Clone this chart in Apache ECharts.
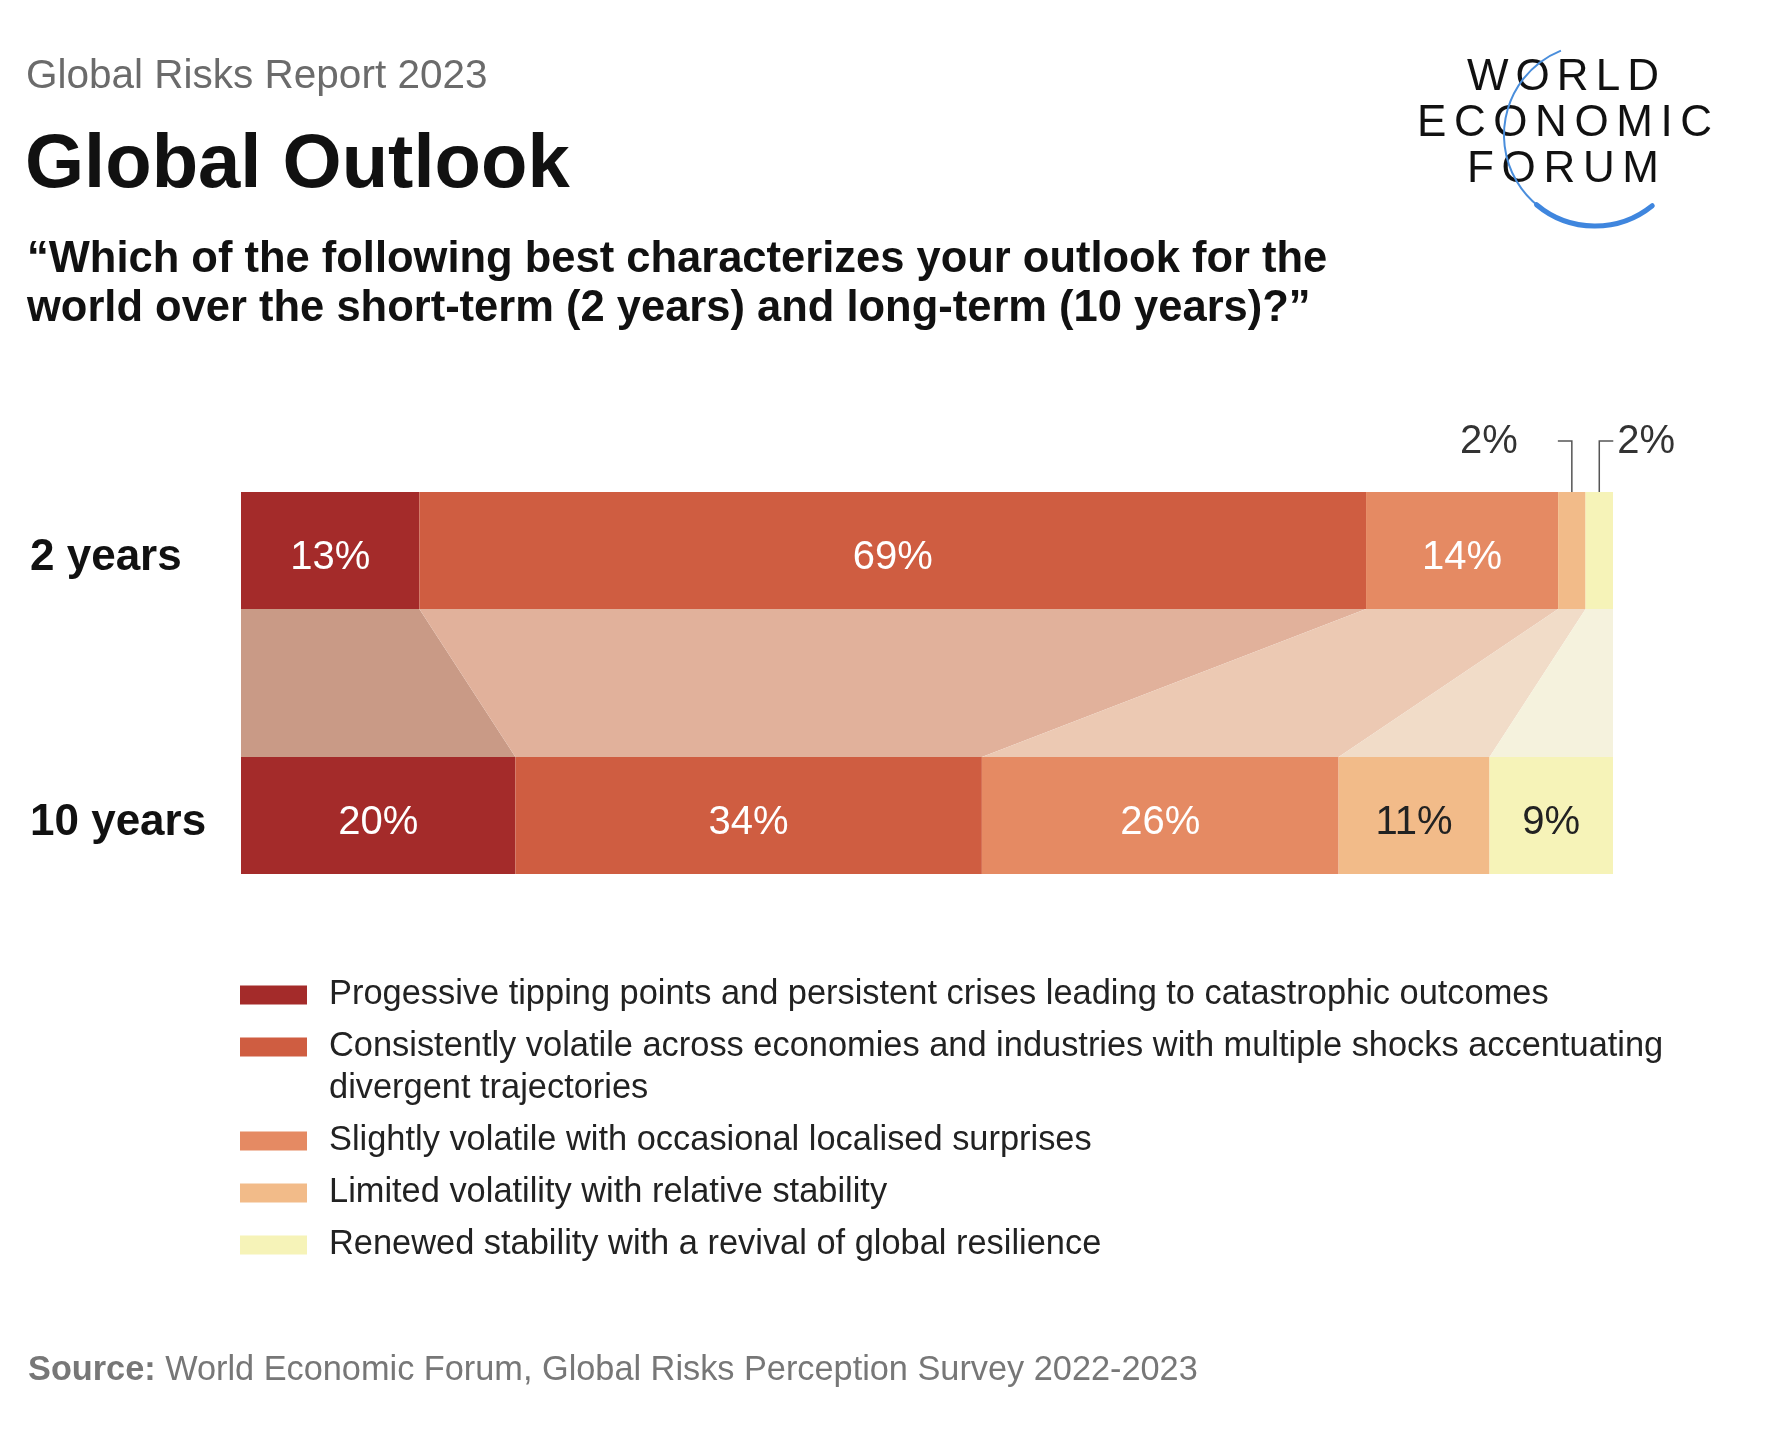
<!DOCTYPE html>
<html>
<head>
<meta charset="utf-8">
<title>Global Outlook</title>
<script src="https://cdn.jsdelivr.net/npm/echarts@6/dist/echarts.min.js"></script>
<style>
  html, body { margin: 0; padding: 0; background: #fff; }
  #chart { width: 1766px; height: 1430px; }
</style>
</head>
<body>
<div id="chart"></div>
<script>
// data
var CATEGORIES = ['2 years', '10 years'];
var OUTLOOKS = [
  'Progessive tipping points and persistent crises leading to catastrophic outcomes',
  'Consistently volatile across economies and industries with multiple shocks accentuating\ndivergent trajectories',
  'Slightly volatile with occasional localised surprises',
  'Limited volatility with relative stability',
  'Renewed stability with a revival of global resilience'
];
var SHORT_TERM = [13, 69, 14, 2, 2];   // 2 years
var LONG_TERM = [20, 34, 26, 11, 9];   // 10 years
var CALLOUTS = [[3, -1], [4, 1]];      // [segment, side] for the tiny 2-year slices

// styles
var BAR_COLORS = ['#A42B2A', '#CF5D41', '#E58A63', '#F2BB89', '#F6F3B8'];
var FLOW_COLORS = ['#C99A86', '#E1B19B', '#ECC9B3', '#F1DCC8', '#F5F2DD'];
var LABEL_COLORS = ['#ffffff', '#ffffff', '#ffffff', '#222222', '#222222'];
var FONT = '"Liberation Sans", Arial, Helvetica, sans-serif';
var BAR_H = 117;
var LEG_LH = 42;

var myChart = echarts.init(document.getElementById('chart'));

function cum(arr, n) {
  var s = 0;
  for (var k = 0; k < n; k++) s += arr[k];
  return s;
}

var series = [];
OUTLOOKS.forEach(function (name, i) {
  series.push({
    name: name,
    type: 'bar',
    stack: 'total',
    barWidth: BAR_H,
    silent: true,
    itemStyle: { color: BAR_COLORS[i] },
    label: {
      show: true,
      position: 'inside',
      offset: [0, 7],
      formatter: '{c}%',
      fontFamily: FONT,
      fontSize: 40,
      color: LABEL_COLORS[i]
    },
    data: [SHORT_TERM[i], LONG_TERM[i]].map(function (v) {
      return v < 5 ? { value: v, label: { show: false } } : v;
    })
  });
});

// flows between the two bars
series.push({
  type: 'custom',
  silent: true,
  data: OUTLOOKS.map(function (n, i) { return [i]; }),
  renderItem: function (params, api) {
    var i = api.value(0);
    var a0 = api.coord([cum(SHORT_TERM, i), 0]);
    var a1 = api.coord([cum(SHORT_TERM, i + 1), 0]);
    var b0 = api.coord([cum(LONG_TERM, i), 1]);
    var b1 = api.coord([cum(LONG_TERM, i + 1), 1]);
    var h = BAR_H / 2;
    return {
      type: 'polygon',
      shape: { points: [[a0[0], a0[1] + h], [a1[0], a1[1] + h], [b1[0], b1[1] - h], [b0[0], b0[1] - h]] },
      style: { fill: FLOW_COLORS[i] }
    };
  }
});

// leader lines for the 2% slices
series.push({
  type: 'custom',
  silent: true,
  data: CALLOUTS,
  renderItem: function (params, api) {
    var idx = api.value(0), side = api.value(1);
    var p = api.coord([cum(SHORT_TERM, idx) + SHORT_TERM[idx] / 2, 0]);
    var top = p[1] - BAR_H / 2;
    var ly = top - 51;
    var ex = p[0] + side * 14;
    return {
      type: 'group',
      children: [{
        type: 'polyline',
        shape: { points: [[p[0], top], [p[0], ly], [ex, ly]] },
        style: { stroke: '#555', lineWidth: 1.5, fill: null }
      }, {
        type: 'text',
        style: {
          text: SHORT_TERM[idx] + '%',
          x: ex + side * (side < 0 ? 40 : 4),
          y: ly + 1,
          align: side < 0 ? 'right' : 'left',
          verticalAlign: 'middle',
          font: '40px ' + FONT,
          fill: '#333'
        }
      }]
    };
  }
});

// one legend per item; a blank leading line keeps the wrapped entry's swatch on its first line
var legendCenters = [995, 1047, 1141, 1193, 1245];
var legends = OUTLOOKS.map(function (name, i) {
  var lines = name.split('\n').length;
  var boxH = (lines * 2 - 1) * LEG_LH;
  return {
    left: 240,
    top: legendCenters[i] - boxH / 2,
    orient: 'vertical',
    padding: 0,
    itemWidth: 67,
    itemHeight: 19,
    icon: 'rect',
    selectedMode: false,
    data: [name],
    formatter: function (n) {
      var ls = n.split('\n');
      var pre = '';
      for (var k = 1; k < ls.length; k++) pre += '{e|\u00a0}\n';
      return pre + ls.map(function (l) { return '{t|' + l + '}'; }).join('\n');
    },
    textStyle: {
      fontFamily: FONT, fontSize: 34.4, lineHeight: LEG_LH, color: '#222',
      padding: [0, 0, 0, 17],
      rich: {
        t: { fontFamily: FONT, fontSize: 34.4, lineHeight: LEG_LH, color: '#222' },
        e: { fontFamily: FONT, fontSize: 34.4, lineHeight: LEG_LH, color: '#222' }
      }
    }
  };
});

// logo letters with letter spacing
var measure = document.createElement('canvas').getContext('2d');
var LOGO_FONT = '44px "Liberation Sans", Arial, sans-serif';
measure.font = LOGO_FONT;
function spacedWord(word, x0, x1, yc) {
  var widths = word.split('').map(function (c) { return measure.measureText(c).width; });
  var total = widths.reduce(function (a, b) { return a + b; }, 0);
  var gap = (x1 - x0 - total) / (word.length - 1);
  var x = x0;
  return word.split('').map(function (c, k) {
    var el = {
      type: 'text',
      x: x, y: yc,
      style: { text: c, font: LOGO_FONT, fill: '#111', verticalAlign: 'middle' }
    };
    x += widths[k] + gap;
    return el;
  });
}
var logo = []
  .concat(spacedWord('WORLD', 1467, 1659, 78))
  .concat(spacedWord('ECONOMIC', 1417, 1712, 124))
  .concat(spacedWord('FORUM', 1467, 1659, 170));
var rad = Math.PI / 180;
logo.push({
  type: 'arc',
  shape: { cx: 1595, cy: 135, r: 91, startAngle: 128 * rad, endAngle: 248 * rad, clockwise: true },
  style: { stroke: '#4A8EDC', lineWidth: 2, fill: null }
});
logo.push({
  type: 'arc',
  shape: { cx: 1595, cy: 135, r: 91, startAngle: 51 * rad, endAngle: 130 * rad, clockwise: true },
  style: { stroke: '#3F86DE', lineWidth: 5, fill: null, lineCap: 'round' }
});

var option = {
  backgroundColor: '#ffffff',
  animation: false,
  title: [{
    text: 'Global Risks Report 2023',
    left: 26, top: 53, padding: 0,
    textStyle: { fontFamily: FONT, fontSize: 40.5, lineHeight: 48, fontWeight: 'normal', color: '#6b6b6b' }
  }, {
    text: 'Global Outlook',
    left: 25, top: 121, padding: 0,
    textStyle: { fontFamily: FONT, fontSize: 76, lineHeight: 90, fontWeight: 'bold', color: '#111' }
  }, {
    text: '\u201cWhich of the following best characterizes your outlook for the\nworld over the short-term (2 years) and long-term (10 years)?\u201d',
    left: 27, top: 236, padding: 0,
    textStyle: { fontFamily: FONT, fontSize: 43.5, lineHeight: 48.5, fontWeight: 'bold', color: '#111' }
  }, {
    text: '{b|Source:}{n| World Economic Forum, Global Risks Perception Survey 2022-2023}',
    left: 28, top: 1351, padding: 0,
    textStyle: {
      fontWeight: 'normal',
      rich: {
        b: { fontFamily: FONT, fontSize: 34.3, lineHeight: 40, fontWeight: 'bold', color: '#777' },
        n: { fontFamily: FONT, fontSize: 34.3, lineHeight: 40, fontWeight: 'normal', color: '#777' }
      }
    }
  }],
  legend: legends,
  grid: { left: 241, right: 153, top: 418, height: 530, containLabel: false },
  xAxis: { type: 'value', min: 0, max: 100, show: false },
  yAxis: {
    type: 'category',
    inverse: true,
    data: CATEGORIES,
    axisLine: { show: false },
    axisTick: { show: false },
    splitLine: { show: false },
    axisLabel: {
      align: 'left',
      margin: 211,
      formatter: '{a|{value}}',
      rich: {
        a: {
          fontFamily: FONT,
          fontSize: 44,
          fontWeight: 'bold',
          color: '#111',
          padding: [14, 0, 0, 0]
        }
      }
    }
  },
  graphic: logo,
  series: series
};
myChart.setOption(option);
</script>
</body>
</html>
